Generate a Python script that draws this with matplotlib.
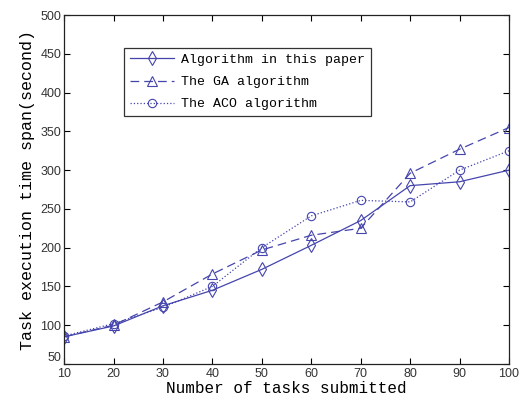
import matplotlib
matplotlib.use('Agg')
import matplotlib.pyplot as plt

# data
tasks = [10, 20, 30, 40, 50, 60, 70, 80, 90, 100]
ours = [85, 99, 125, 145, 172, 203, 235, 280, 285, 300]
ga = [85, 100, 130, 166, 197, 216, 225, 296, 327, 355]
aco = [86, 102, 123, 150, 200, 241, 261, 259, 300, 325]

labels = ['Algorithm in this paper', 'The GA algorithm', 'The ACO algorithm']
xticks = [10, 20, 30, 40, 50, 60, 70, 80, 90, 100]
yticks = [50, 100, 150, 200, 250, 300, 350, 400, 450, 500]

col = '#4545ad'
mono = ['Liberation Mono', 'DejaVu Sans Mono']
tickfont = ['Liberation Sans Narrow', 'Liberation Sans', 'DejaVu Sans']

fig = plt.figure(figsize=(5.21, 4.08), dpi=100)
ax = fig.add_axes([0.123, 0.108, 0.854, 0.855])

ax.plot(tasks, ours, '-', color=col, lw=0.9, marker='d', ms=7,
        mfc='none', mec=col, mew=0.8, label=labels[0])
ax.plot(tasks, ga, '--', color=col, lw=0.9, marker='^', ms=7,
        mfc='none', mec=col, mew=0.8, dashes=(7, 4), label=labels[1])
ax.plot(tasks, aco, ':', color=col, lw=0.9, marker='o', ms=6,
        mfc='none', mec=col, mew=0.8, label=labels[2])

ax.set_xlim(10, 100)
ax.set_ylim(50, 500)
ax.set_xticks(xticks)
ax.set_yticks(yticks)
ax.tick_params(direction='in', top=True, right=True, length=4, width=0.8,
               labelsize=9, pad=2)
ax.tick_params(axis='x', pad=3)
for t in ax.get_xticklabels() + ax.get_yticklabels():
    t.set_family(tickfont)
    t.set_color('#333333')
ax.get_yticklabels()[0].set_va('bottom')
for s in ax.spines.values():
    s.set_linewidth(0.9)
    s.set_color('#222222')

ax.set_xlabel('Number of tasks submitted', family=mono, fontsize=11.5, labelpad=1)
ax.set_ylabel('Task execution time span(second)', family=mono, fontsize=12, labelpad=4)

leg = ax.legend(loc='upper left', bbox_to_anchor=(0.12, 0.925), prop={'family': mono, 'size': 9.5},
                fancybox=False, edgecolor='#333333', framealpha=1, borderpad=0.45,
                labelspacing=0.75, handlelength=3.3, handletextpad=0.6)
leg.get_frame().set_linewidth(0.9)

fig.savefig('out.png', dpi=100)
